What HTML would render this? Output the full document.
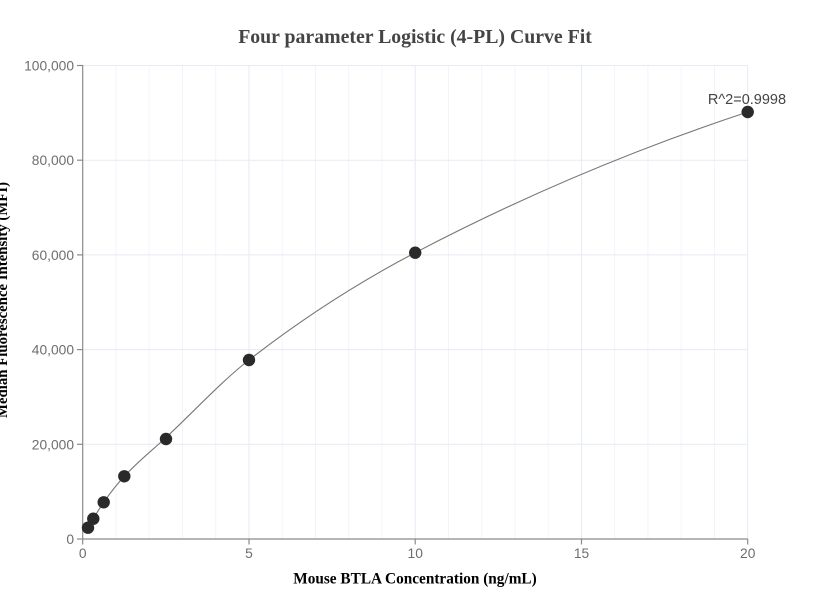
<!DOCTYPE html>
<html>
<head>
<meta charset="utf-8">
<style>
html,body{margin:0;padding:0;background:#fff;}
svg{display:block;}
</style>
</head>
<body>
<svg width="830" height="616" viewBox="0 0 830 616" xmlns="http://www.w3.org/2000/svg">
  <rect x="0" y="0" width="830" height="616" fill="#ffffff"/>
  <!-- minor vertical gridlines -->
  <g stroke="#f2f4fa" stroke-width="1">
    <line x1="115.95" y1="65.5" x2="115.95" y2="539"/>
    <line x1="149.2" y1="65.5" x2="149.2" y2="539"/>
    <line x1="182.45" y1="65.5" x2="182.45" y2="539"/>
    <line x1="215.7" y1="65.5" x2="215.7" y2="539"/>
    <line x1="282.2" y1="65.5" x2="282.2" y2="539"/>
    <line x1="315.45" y1="65.5" x2="315.45" y2="539"/>
    <line x1="348.7" y1="65.5" x2="348.7" y2="539"/>
    <line x1="381.95" y1="65.5" x2="381.95" y2="539"/>
    <line x1="448.45" y1="65.5" x2="448.45" y2="539"/>
    <line x1="481.7" y1="65.5" x2="481.7" y2="539"/>
    <line x1="514.95" y1="65.5" x2="514.95" y2="539"/>
    <line x1="548.2" y1="65.5" x2="548.2" y2="539"/>
    <line x1="614.7" y1="65.5" x2="614.7" y2="539"/>
    <line x1="647.95" y1="65.5" x2="647.95" y2="539"/>
    <line x1="681.2" y1="65.5" x2="681.2" y2="539"/>
    <line x1="714.45" y1="65.5" x2="714.45" y2="539"/>
  </g>
  <!-- major gridlines -->
  <g stroke="#e6eaf3" stroke-width="1">
    <line x1="249" y1="65.5" x2="249" y2="539"/>
    <line x1="415.2" y1="65.5" x2="415.2" y2="539"/>
    <line x1="581.5" y1="65.5" x2="581.5" y2="539"/>
    <line x1="747.7" y1="65.5" x2="747.7" y2="539"/>
    <line x1="82.7" y1="65.5" x2="747.7" y2="65.5"/>
    <line x1="82.7" y1="160.2" x2="747.7" y2="160.2"/>
    <line x1="82.7" y1="254.9" x2="747.7" y2="254.9"/>
    <line x1="82.7" y1="349.6" x2="747.7" y2="349.6"/>
    <line x1="82.7" y1="444.3" x2="747.7" y2="444.3"/>
  </g>
  <!-- axes -->
  <g stroke="#8a8a8a" stroke-width="1.2">
    <line x1="82.7" y1="65" x2="82.7" y2="539.5"/>
    <line x1="82.2" y1="539" x2="747.7" y2="539"/>
    <line x1="77" y1="65.5" x2="82.7" y2="65.5"/>
    <line x1="77" y1="160.2" x2="82.7" y2="160.2"/>
    <line x1="77" y1="254.9" x2="82.7" y2="254.9"/>
    <line x1="77" y1="349.6" x2="82.7" y2="349.6"/>
    <line x1="77" y1="444.3" x2="82.7" y2="444.3"/>
    <line x1="77" y1="539" x2="82.7" y2="539"/>
    <line x1="82.7" y1="539" x2="82.7" y2="544.5"/>
    <line x1="249" y1="539" x2="249" y2="544.5"/>
    <line x1="415.2" y1="539" x2="415.2" y2="544.5"/>
    <line x1="581.5" y1="539" x2="581.5" y2="544.5"/>
    <line x1="747.7" y1="539" x2="747.7" y2="544.5"/>
  </g>
  <!-- y tick labels -->
  <g font-family="'Liberation Sans', sans-serif" font-size="13.8" fill="#6e6e6e" text-anchor="end">
    <text x="74" y="70.5">100,000</text>
    <text x="74" y="165.2">80,000</text>
    <text x="74" y="259.9">60,000</text>
    <text x="74" y="354.6">40,000</text>
    <text x="74" y="449.3">20,000</text>
    <text x="74" y="544">0</text>
  </g>
  <!-- x tick labels -->
  <g font-family="'Liberation Sans', sans-serif" font-size="13.8" fill="#6e6e6e" text-anchor="middle">
    <text x="82.7" y="558">0</text>
    <text x="249" y="558">5</text>
    <text x="415.2" y="558">10</text>
    <text x="581.5" y="558">15</text>
    <text x="747.7" y="558">20</text>
  </g>
  <!-- fitted curve -->
  <path d="M88,527.7 C89.77,524.61 91.53,521.61 93.3,518.7 C96.77,513.0 100.23,507.22 103.7,502.3 C110.57,492.56 117.43,483.78 124.3,476.3 C138.2,461.16 152.1,450.45 166,437.5 C193.67,411.71 221.33,381.57 249,360 C304.4,316.81 359.8,281.7 415.2,252.7 C526.03,194.7 636.87,148.6 747.7,112" fill="none" stroke="#777777" stroke-width="1.1"/>
  <!-- data points -->
  <g fill="#2a2a2a">
    <circle cx="88" cy="527.7" r="6.2"/>
    <circle cx="93.3" cy="518.7" r="6.2"/>
    <circle cx="103.7" cy="502.3" r="6.2"/>
    <circle cx="124.3" cy="476.3" r="6.2"/>
    <circle cx="166" cy="439" r="6.2"/>
    <circle cx="249" cy="360" r="6.2"/>
    <circle cx="415.2" cy="252.7" r="6.2"/>
    <circle cx="747.7" cy="112" r="6.2"/>
  </g>
  <!-- R^2 annotation -->
  <text x="747" y="104" font-family="'Liberation Sans', sans-serif" font-size="14.5" fill="#444" text-anchor="middle">R^2=0.9998</text>
  <!-- title -->
  <text x="415" y="43" font-family="'Liberation Serif', serif" font-weight="bold" font-size="19.8" fill="#444" text-anchor="middle">Four parameter Logistic (4-PL) Curve Fit</text>
  <!-- x axis title -->
  <text x="415" y="583.5" font-family="'Liberation Serif', serif" font-weight="bold" font-size="15.3" fill="#000" text-anchor="middle">Mouse BTLA Concentration (ng/mL)</text>
  <!-- y axis title -->
  <text transform="translate(7,300) rotate(-90)" x="0" y="0" font-family="'Liberation Serif', serif" font-weight="bold" font-size="14.8" fill="#000" text-anchor="middle">Median Fluorescence Intensity (MFI)</text>
</svg>
</body>
</html>
